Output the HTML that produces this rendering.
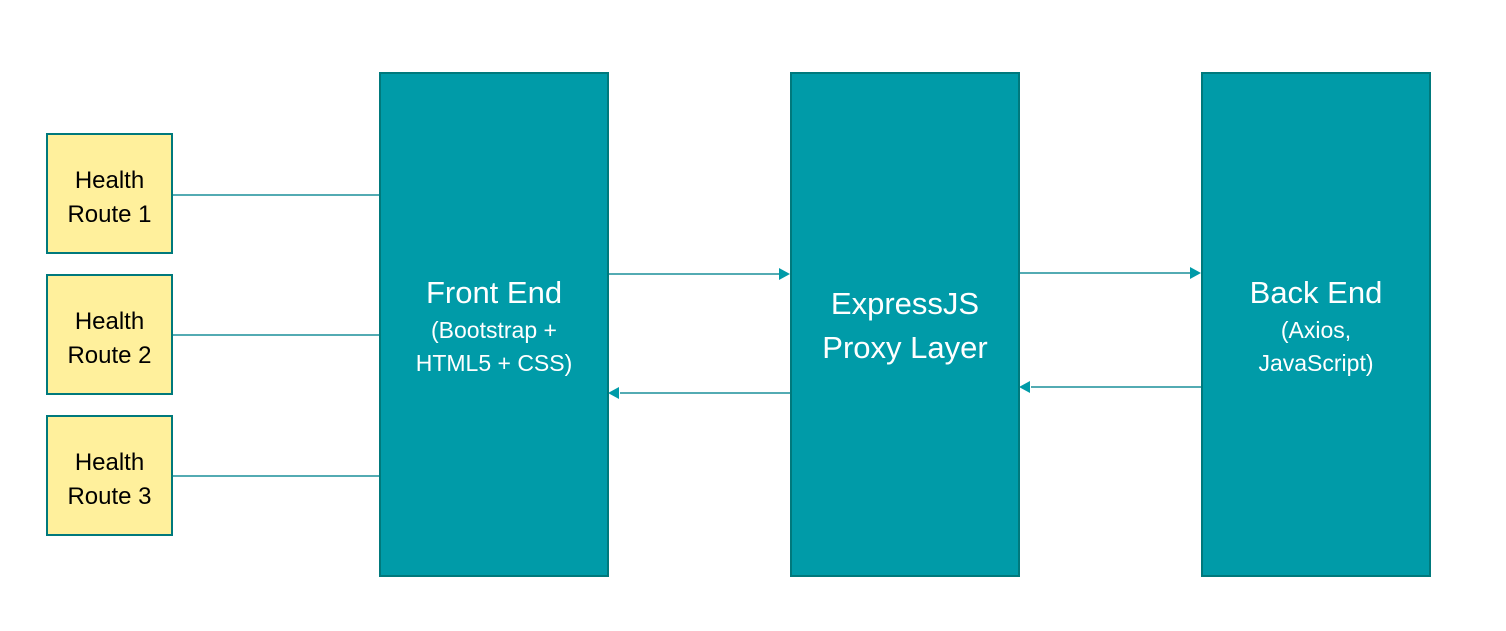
<!DOCTYPE html>
<html><head><style>
body{margin:0;width:1506px;height:631px;background:#fff;position:relative;overflow:hidden;font-family:"Liberation Sans",sans-serif}
.y{position:absolute;left:46px;width:123px;height:117px;background:#FFF09C;border:2px solid #00797C;display:flex;align-items:center;justify-content:center;text-align:center;font-size:24px;line-height:34px;color:#000;padding-top:8px;box-sizing:content-box;height:109px}
.b{position:absolute;top:72px;width:226px;height:501px;background:#009BA8;border:2px solid #00797C;display:flex;flex-direction:column;align-items:center;justify-content:center;text-align:center;color:#fff}
.t{font-size:31px;line-height:42px}
.s{font-size:23px;line-height:33px}
</style></head><body>
<svg width="1506" height="631" style="position:absolute;left:0;top:0">
<g stroke="#1A8F9A" stroke-width="1.5">
<line x1="172" y1="195" x2="380" y2="195"/>
<line x1="172" y1="335" x2="380" y2="335"/>
<line x1="172" y1="476" x2="380" y2="476"/>
<line x1="609" y1="274" x2="780" y2="274"/>
<line x1="620" y1="393" x2="790" y2="393"/>
<line x1="1020" y1="273" x2="1191" y2="273"/>
<line x1="1031" y1="387" x2="1202" y2="387"/>
</g>
<g fill="#009BA8">
<polygon points="779,268 790,274 779,280"/>
<polygon points="619,387 608,393 619,399"/>
<polygon points="1190,267 1201,273 1190,279"/>
<polygon points="1030,381 1019,387 1030,393"/>
</g>
</svg>
<div class="y" style="top:133px">Health<br>Route 1</div>
<div class="y" style="top:274px">Health<br>Route 2</div>
<div class="y" style="top:415px">Health<br>Route 3</div>
<div class="b" style="left:379px"><div class="t" style="margin-top:2px">Front End</div><div class="s">(Bootstrap +<br>HTML5 + CSS)</div></div>
<div class="b" style="left:790px"><div class="t" style="line-height:44px;margin-top:2px">ExpressJS<br>Proxy Layer</div></div>
<div class="b" style="left:1201px"><div class="t" style="margin-top:2px">Back End</div><div class="s">(Axios,<br>JavaScript)</div></div>
</body></html>
